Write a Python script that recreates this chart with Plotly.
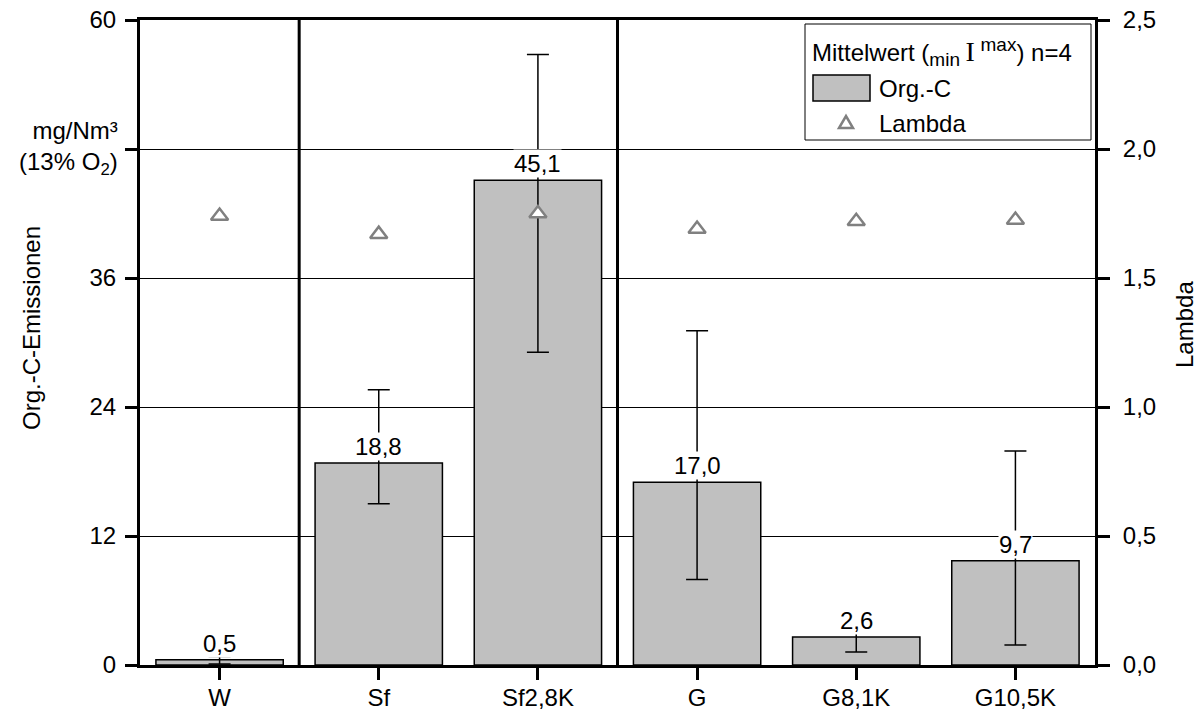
import plotly.graph_objects as go

categories = ["W", "Sf", "Sf2,8K", "G", "G8,1K", "G10,5K"]
orgc_mean = [0.5, 18.8, 45.1, 17.0, 2.6, 9.7]
orgc_max = [0.8, 25.6, 56.8, 31.1, 3.85, 19.9]
orgc_min = [0.1, 15.0, 29.1, 7.95, 1.2, 1.85]
lambda_vals = [1.74, 1.67, 1.75, 1.69, 1.72, 1.725]
left_ticks = [0, 12, 24, 36, 48, 60]
left_ticktext = ["0", "12", "24", "36", "", "60"]

FONT = "Liberation Sans, Arial, sans-serif"
FS = 24
GREY_BAR = "#c0c0c0"
GREY_MARK = "#808080"

# figure geometry (pixels)
W, H = 1197, 720
L, R, T, B = 140, 102, 20, 55
PW, PH = W - L - R, H - T - B


def px(xp):
    return (xp - L) / PW


def py(yp):
    return (H - B - yp) / PH


fig = go.Figure()
fig.add_trace(go.Bar(
    x=categories, y=orgc_mean, width=0.8,
    marker=dict(color=GREY_BAR, line=dict(color="black", width=1.5)),
    error_y=dict(type="data", symmetric=False,
                 array=[mx - m for mx, m in zip(orgc_max, orgc_mean)],
                 arrayminus=[m - mn for m, mn in zip(orgc_mean, orgc_min)],
                 color="black", thickness=1.5, width=11),
    showlegend=False, yaxis="y"))
fig.add_trace(go.Scatter(
    x=categories, y=lambda_vals, mode="markers", yaxis="y2",
    marker=dict(symbol="triangle-up", size=15, color="white",
                line=dict(color=GREY_MARK, width=2.5)),
    showlegend=False))

# value labels
for c, v in zip(categories, orgc_mean):
    fig.add_annotation(x=c, y=v, xref="x", yref="y", yanchor="bottom",
                       text=f"{v:.1f}".replace(".", ","), showarrow=False,
                       bgcolor="white", borderpad=0, yshift=2,
                       font=dict(family=FONT, size=FS, color="black"))

# group separators between categories
shapes = []
for sep in [0.5, 2.5]:
    shapes.append(dict(type="line", xref="x", yref="paper", x0=sep, x1=sep,
                       y0=0, y1=1, line=dict(color="black", width=3)))

# manual legend
shapes.append(dict(type="rect", xref="paper", yref="paper",
                   x0=px(805), x1=px(1091), y0=py(140), y1=py(24),
                   line=dict(color="black", width=1), fillcolor="white", layer="above"))
shapes.append(dict(type="rect", xref="paper", yref="paper",
                   x0=px(813), x1=px(870), y0=py(101), y1=py(75),
                   line=dict(color="black", width=1.5), fillcolor=GREY_BAR, layer="above"))
shapes.append(dict(type="path", xref="paper", yref="paper",
                   xsizemode="pixel", ysizemode="pixel",
                   xanchor=px(846), yanchor=py(123),
                   path="M -7,-5 L 7,-5 L 0,7 Z",
                   line=dict(color=GREY_MARK, width=2.5), fillcolor="white", layer="above"))
fig.add_annotation(xref="paper", yref="paper", x=px(810), y=py(52), xanchor="left",
                   yanchor="middle", showarrow=False,
                   text=("Mittelwert (<sub><span style='font-size:19px'>min</span></sub>"
                         "<span style='font-family:Liberation Serif;font-size:28px'>\u2009I\u2009</span>"
                         "<sup><span style='font-size:19px'>max</span></sup>) n=4"),
                   font=dict(family=FONT, size=FS, color="black"))
fig.add_annotation(xref="paper", yref="paper", x=px(877), y=py(88), xanchor="left",
                   yanchor="middle", showarrow=False, text="Org.-C",
                   font=dict(family=FONT, size=FS, color="black"))
fig.add_annotation(xref="paper", yref="paper", x=px(877), y=py(123), xanchor="left",
                   yanchor="middle", showarrow=False, text="Lambda",
                   font=dict(family=FONT, size=FS, color="black"))

# axis unit label & titles
fig.add_annotation(xref="paper", yref="paper", x=px(120), y=py(148), xanchor="right",
                   yanchor="middle", showarrow=False, align="right",
                   text="mg/Nm³<br>(13% O<sub>2</sub>)",
                   font=dict(family=FONT, size=FS, color="black"))
fig.add_annotation(xref="paper", yref="paper", x=px(31), y=py(328), xanchor="center",
                   yanchor="middle", showarrow=False, textangle=-90,
                   text="Org.-C-Emissionen",
                   font=dict(family=FONT, size=FS, color="black"))
fig.add_annotation(xref="paper", yref="paper", x=px(1185), y=py(325), xanchor="center",
                   yanchor="middle", showarrow=False, textangle=-90,
                   text="Lambda",
                   font=dict(family=FONT, size=FS, color="black"))

axis_common = dict(showline=True, linewidth=3, linecolor="black", ticks="outside",
                   ticklen=12, tickwidth=2.5, tickcolor="black", zeroline=False,
                   automargin=False, tickfont=dict(family=FONT, size=FS))

fig.update_layout(
    width=W, height=H,
    margin=dict(l=L, r=R, t=T, b=B, pad=0, autoexpand=False),
    paper_bgcolor="white", plot_bgcolor="white",
    separators=",.",
    font=dict(family=FONT, size=FS, color="black"),
    shapes=shapes,
    bargap=0.2,
    xaxis=dict(type="category", range=[-0.5, 5.5], mirror=True, showgrid=False,
               ticklabelstandoff=-3, **axis_common),
    yaxis=dict(range=[0, 60], tickvals=left_ticks, ticktext=left_ticktext,
               showgrid=True, gridcolor="black", gridwidth=1,
               ticklabelstandoff=4, **axis_common),
    yaxis2=dict(range=[0, 2.5], tickvals=[0, 0.5, 1.0, 1.5, 2.0, 2.5], tickformat=".1f",
                overlaying="y", side="right", showgrid=False,
                ticklabelstandoff=8, **axis_common),
)

fig.write_html("out.html")
